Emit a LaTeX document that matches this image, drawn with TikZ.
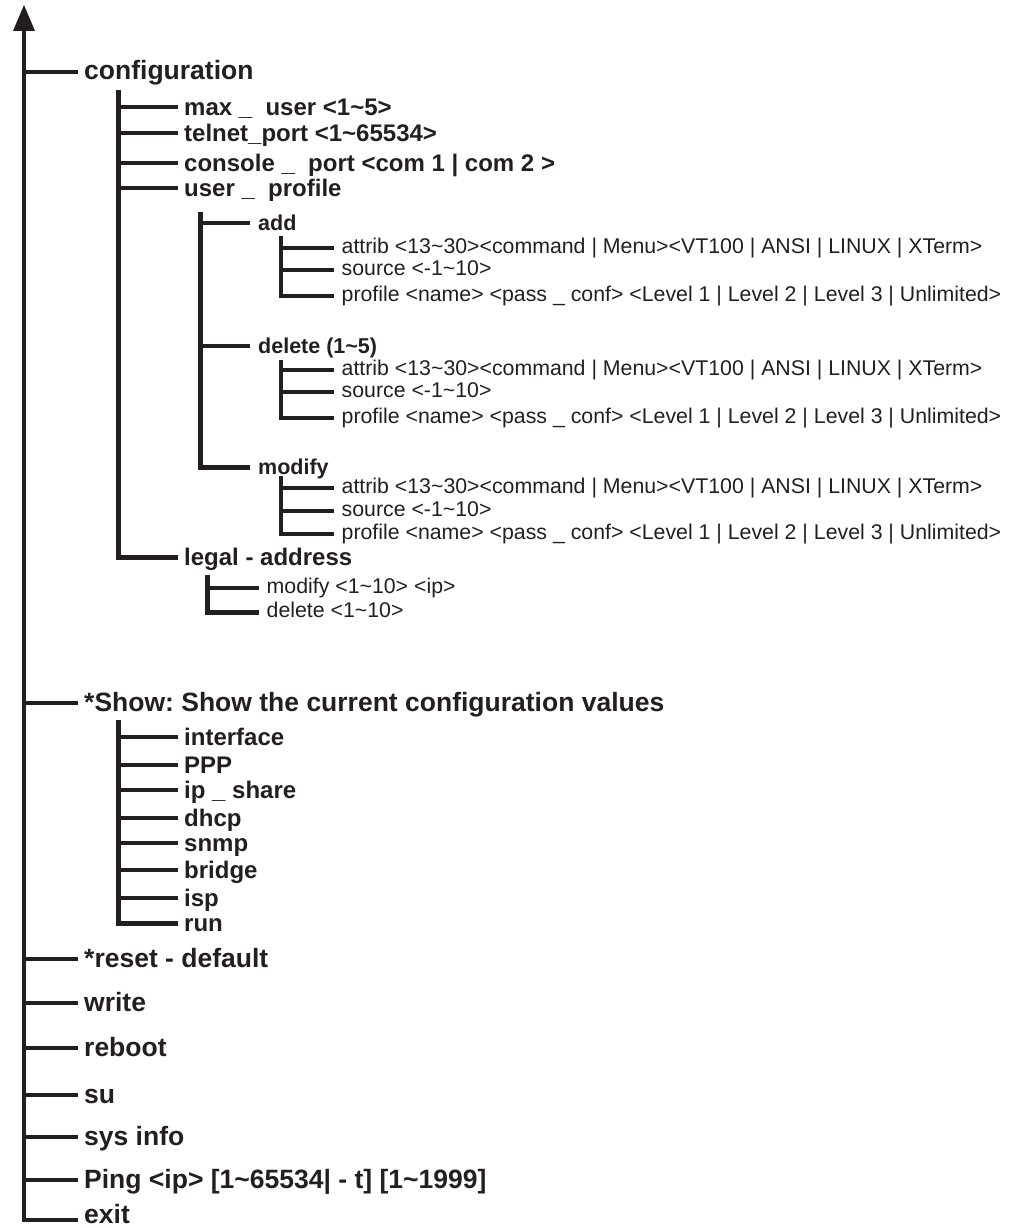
\documentclass[tikz,border=0pt]{standalone}
\usepackage{fontspec}
\setmainfont{Liberation Sans}
\definecolor{ink}{HTML}{231F20}
\begin{document}
\frenchspacing
\begin{tikzpicture}[x=1pt,y=-1pt,line join=miter,color=ink,
  every node/.style={anchor=west,inner ysep=0pt,text=ink},
  tA/.style={font=\fontsize{26.5}{30}\selectfont\bfseries,inner xsep=6pt,text height=19pt,text depth=3pt},
  tB/.style={font=\fontsize{24}{28}\selectfont\bfseries,inner xsep=6pt,text height=18pt,text depth=1pt},
  tC/.style={font=\fontsize{21.5}{25}\selectfont\bfseries,inner xsep=8pt,text height=17pt,text depth=2pt},
  tD/.style={font=\fontsize{21.3}{25}\selectfont,inner xsep=7.5pt,text height=15pt,text depth=4pt},
  ln/.style={line width=4pt},
  spB/.style={line width=5pt},
  spD/.style={line width=3.6pt}]
\useasboundingbox (0,0) rectangle (1022,1228);

% ---------- main level ----------
\node[tA] (cfg)    at (78,72)   {configuration};
\node[tA] (show)   at (78,703)  {*Show: Show the current configuration values};
\node[tA] (reset)  at (78,959)  {*reset - default};
\node[tA] (write)  at (78,1003) {write};
\node[tA] (reboot) at (78,1048) {reboot};
\node[tA] (su)     at (78,1095) {su};
\node[tA] (sys)    at (78,1137) {sys info};
\node[tA] (ping)   at (78,1180) {Ping <ip> [1\textasciitilde 65534| - t] [1\textasciitilde 1999]};
\node[tA] (exit)   at (78,1215) {exit};
\coordinate (eend) at (78,1220);
\coordinate (tip) at (24,5);
\coordinate (abase) at (24,29);
\fill (tip) -- (35,31) -- (13,31) -- cycle;
\draw[ln] (eend) -| (abase);
\foreach \n in {cfg,show,reset,write,reboot,su,sys,ping}
  \draw[ln] (\n.west -| tip) -- (\n.west);

% ---------- configuration ----------
\coordinate (s2) at (118,90);
\node[tB] (mu)  at (178,107) {max \_ \ user <1\textasciitilde 5>};
\node[tB] (tel) at (178,133) {telnet\_port <1\textasciitilde 65534>};
\node[tB] (con) at (178,163) {console \_ \ port <com 1 | com 2 >};
\node[tB] (up)  at (178,188) {user \_ \ profile};
\node[tB] (leg) at (178,557) {legal - address};
\draw[spB] (s2) |- (leg.west);
\foreach \n in {mu,tel,con,up}
  \draw[ln] (\n.west -| s2) -- (\n.west);

% ---------- user profile ----------
\coordinate (s3) at (200,212);
\node[tC] (add) at (250,223) {add};
\node[tC] (del) at (250,346) {delete (1\textasciitilde 5)};
\node[tC] (mod) at (250,467) {modify};
\draw[spB] (s3) |- (mod.west);
\foreach \n in {add,del}
  \draw[ln] (\n.west -| s3) -- (\n.west);

% ---------- leaves of add / delete / modify ----------
\foreach \p/\t/\a/\s/\r in {a/236/248/270/296, d/360/370/392/418, m/476/488/511/534}{
  \coordinate (s4\p) at (281,\t);
  \node[tD] (\p at) at (334,\a) {attrib <13\textasciitilde 30><command | Menu><VT100 | ANSI | LINUX | XTerm>};
  \node[tD] (\p so) at (334,\s) {source <-1\textasciitilde 10>};
  \node[tD] (\p pr) at (334,\r) {profile <name> <pass \_ conf> <Level 1 | Level 2 | Level 3 | Unlimited>};
  \draw[spD] (s4\p) |- (\p pr.west);
  \draw[ln] (\p at.west -| s4\p) -- (\p at.west);
  \draw[ln] (\p so.west -| s4\p) -- (\p so.west);
}

% ---------- legal address ----------
\coordinate (s5) at (207,575);
\node[tD] (lmod) at (259,588) {modify <1\textasciitilde 10> <ip>};
\node[tD] (ldel) at (259,612) {delete <1\textasciitilde 10>};
\draw[spB] (s5) |- (ldel.west);
\draw[ln] (lmod.west -| s5) -- (lmod.west);

% ---------- show ----------
\coordinate (s6) at (118,720);
\node[tB] (if)  at (178,737) {interface};
\node[tB] (ppp) at (178,765) {PPP};
\node[tB] (ips) at (178,790) {ip \_ share};
\node[tB] (dh)  at (178,818) {dhcp};
\node[tB] (sn)  at (178,843) {snmp};
\node[tB] (br)  at (178,870) {bridge};
\node[tB] (isp) at (178,898) {isp};
\node[tB] (run) at (178,923) {run};
\draw[spB] (s6) |- (run.west);
\foreach \n in {if,ppp,ips,dh,sn,br,isp}
  \draw[ln] (\n.west -| s6) -- (\n.west);
\end{tikzpicture}
\end{document}
